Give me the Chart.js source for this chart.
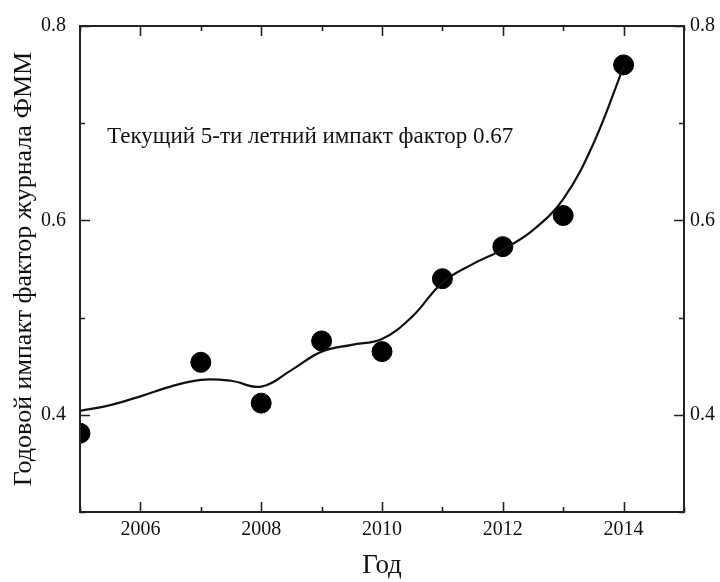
<!DOCTYPE html>
<html>
<head>
<meta charset="utf-8">
<script src="https://cdn.jsdelivr.net/npm/chart.js@4"></script>
<style>
  html, body { margin: 0; padding: 0; background: #fff; }
  #wrap { width: 720px; height: 582px; }
</style>
</head>
<body>
<div id="wrap"><canvas id="grafica"></canvas></div>
<script>
// datos
const anios = [2005, 2007, 2008, 2009, 2010, 2011, 2012, 2013, 2014];
const impacto = [0.381, 0.454, 0.412, 0.476, 0.465, 0.540, 0.573, 0.605, 0.760];

// curva suavizada
const curvaX = [2005, 2005.5, 2006, 2006.5, 2007, 2007.5, 2008, 2008.5, 2009, 2009.5, 2010, 2010.5, 2011, 2011.5, 2012, 2012.5, 2013, 2013.5, 2014];
const curvaY = [0.404, 0.410, 0.419, 0.429, 0.436, 0.435, 0.429, 0.446, 0.465, 0.472, 0.478, 0.501, 0.536, 0.555, 0.570, 0.590, 0.622, 0.679, 0.758];

const ticksY = [0.4, 0.6, 0.8];
const ticksX = [2006, 2008, 2010, 2012, 2014];

const textoNota = 'Текущий 5-ти летний импакт фактор 0.67';
const tituloY = 'Годовой импакт фактор журнала ФММ';
const tituloX = 'Год';

const fuente = '"Liberation Serif", "DejaVu Serif", serif';

// marcas hacia adentro y nota
const marcas = {
    id: 'marcas',
    afterDraw(chart) {
        const ctx = chart.ctx;
        const a = chart.chartArea;
        const sx = chart.scales.x;
        const sy = chart.scales.y;
        ctx.save();
        ctx.strokeStyle = '#222';
        ctx.lineWidth = 1.6;
        ctx.beginPath();
        for (let v = 2005; v <= 2015; v++) {
            const px = Math.round(sx.getPixelForValue(v)) + 0.5;
            const len = (v % 2 === 0) ? 10 : 5;
            ctx.moveTo(px, a.bottom); ctx.lineTo(px, a.bottom - len);
            ctx.moveTo(px, a.top); ctx.lineTo(px, a.top + len);
        }
        for (let i = 3; i <= 8; i++) {
            const v = i / 10;
            const py = Math.round(sy.getPixelForValue(v)) + 0.5;
            const len = (i % 2 === 0) ? 10 : 5;
            ctx.moveTo(a.left, py); ctx.lineTo(a.left + len, py);
            ctx.moveTo(a.right, py); ctx.lineTo(a.right - len, py);
        }
        ctx.stroke();
        ctx.lineWidth = 2;
        ctx.strokeRect(a.left, a.top, a.right - a.left, a.bottom - a.top);

        ctx.fillStyle = '#111';
        ctx.font = '23px ' + fuente;
        ctx.textBaseline = 'middle';
        ctx.fillText(textoNota, a.left + 27, a.top + 111);
        ctx.restore();
    }
};

const ctx = document.getElementById('grafica').getContext('2d');

new Chart(ctx, {
    type: 'scatter',
    data: {
        datasets: [{
            label: 'curva',
            type: 'line',
            data: curvaX.map((x, i) => ({ x: x, y: curvaY[i] })),
            borderColor: '#111',
            borderWidth: 2.2,
            pointRadius: 0,
            fill: false,
            tension: 0.4
        }, {
            label: 'impacto',
            data: anios.map((x, i) => ({ x: x, y: impacto[i] })),
            backgroundColor: '#000',
            borderColor: '#000',
            pointRadius: 10,
            pointHoverRadius: 10,
            clip: 0
        }]
    },
    options: {
        responsive: true,
        maintainAspectRatio: false,
        animation: false,
        events: [],
        layout: { padding: 0 },
        plugins: {
            legend: { display: false },
            tooltip: { enabled: false }
        },
        scales: {
            x: {
                type: 'linear',
                position: 'bottom',
                min: 2005,
                max: 2015,
                afterBuildTicks: s => { s.ticks = ticksX.map(v => ({ value: v })); },
                afterFit: s => { s.height = 70; },
                ticks: {
                    color: '#111',
                    font: { family: fuente, size: 20 },
                    padding: 6,
                    maxRotation: 0,
                    callback: v => String(v)
                },
                grid: { display: false, drawTicks: false },
                border: { display: false },
                title: {
                    display: true,
                    text: tituloX,
                    color: '#111',
                    font: { family: fuente, size: 27 },
                    padding: { top: 0, bottom: 0 }
                }
            },
            x2: {
                type: 'linear',
                position: 'top',
                min: 2005,
                max: 2015,
                afterFit: s => { s.height = 22; },
                ticks: { display: false },
                grid: { display: false, drawTicks: false },
                border: { display: false }
            },
            y: {
                position: 'left',
                min: 0.3,
                max: 0.8,
                afterBuildTicks: s => { s.ticks = ticksY.map(v => ({ value: v })); },
                afterFit: s => { s.width = 80; },
                ticks: {
                    color: '#111',
                    font: { family: fuente, size: 20 },
                    padding: 14,
                    callback: v => v.toFixed(1)
                },
                grid: { display: false, drawTicks: false },
                border: { display: false },
                title: {
                    display: true,
                    text: tituloY,
                    color: '#111',
                    font: { family: fuente, size: 26 },
                    padding: { top: 9, bottom: 0 }
                }
            },
            y2: {
                position: 'right',
                min: 0.3,
                max: 0.8,
                afterBuildTicks: s => { s.ticks = ticksY.map(v => ({ value: v })); },
                afterFit: s => { s.width = 36; },
                ticks: {
                    color: '#111',
                    font: { family: fuente, size: 20 },
                    padding: 6,
                    callback: v => v.toFixed(1)
                },
                grid: { display: false, drawTicks: false },
                border: { display: false }
            }
        }
    },
    plugins: [marcas]
});
</script>
</body>
</html>
